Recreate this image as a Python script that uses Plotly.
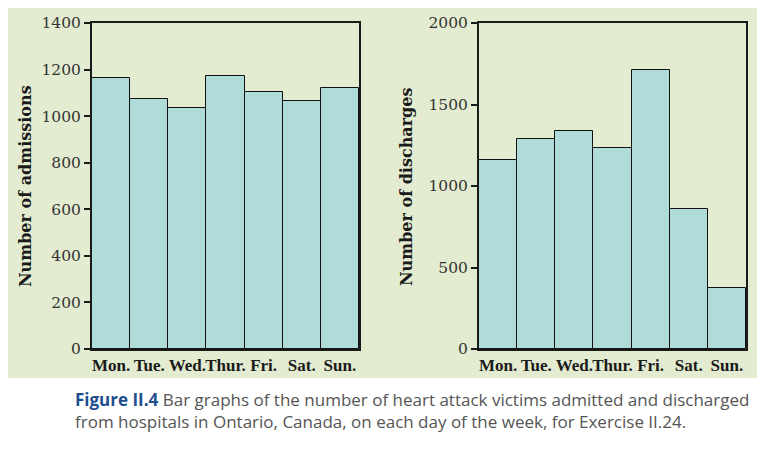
import plotly.graph_objects as go

days = ["Mon.", "Tue.", "Wed.", "Thur.", "Fri.", "Sat.", "Sun."]
admissions = [1165, 1075, 1037, 1174, 1105, 1063, 1123]
discharges = [1158, 1287, 1336, 1232, 1711, 857, 377]
adm_ticks = [0, 200, 400, 600, 800, 1000, 1200, 1400]
dis_ticks = [0, 500, 1000, 1500, 2000]

# page body has an 8px margin; lay out in window pixel coordinates
OFF = 8
W, H = 765 - OFF, 456 - OFF


def px(x):
    return (x - OFF) / W


def py(y):
    return 1 - (y - OFF) / H


bar_color = "#afdcd9"
bg_green = "#e3ecd0"
serif = "DejaVu Serif"
xfont = dict(family="Liberation Serif", size=17, color="#1a1a1a", weight="bold")
yfont = dict(family=serif, size=15.5, color="#333")

fig = go.Figure()
fig.add_trace(go.Bar(x=days, y=admissions, marker=dict(color=bar_color, line=dict(color="#111", width=1)),
                     xaxis="x", yaxis="y", width=1.0, showlegend=False))
fig.add_trace(go.Bar(x=days, y=discharges, marker=dict(color=bar_color, line=dict(color="#111", width=1)),
                     xaxis="x2", yaxis="y2", width=1.0, showlegend=False))

ydom = [py(349), py(23)]
axis_common = dict(showline=True, linecolor="#1a1a1a", linewidth=2, mirror=True, showgrid=False,
                   zeroline=False, automargin=False)
fig.update_layout(
    width=W, height=H,
    margin=dict(l=0, r=0, t=0, b=0),
    paper_bgcolor="white",
    plot_bgcolor="white",
    bargap=0,
    xaxis=dict(domain=[px(92), px(359)], anchor="y", ticks="", tickangle=0, tickfont=xfont, **axis_common),
    yaxis=dict(domain=ydom, anchor="x", range=[0, 1400], tickvals=adm_ticks, ticks="outside", ticklen=6,
               tickwidth=2, tickcolor="#1a1a1a", tickfont=yfont, **axis_common),
    xaxis2=dict(domain=[px(479), px(746)], anchor="y2", ticks="", tickangle=0, tickfont=xfont, **axis_common),
    yaxis2=dict(domain=ydom, anchor="x2", range=[0, 2000], tickvals=dis_ticks, ticks="outside", ticklen=6,
                tickwidth=2, tickcolor="#1a1a1a", tickfont=yfont, **axis_common),
    shapes=[dict(type="rect", xref="paper", yref="paper", x0=px(6), x1=px(760), y0=py(378), y1=py(5),
                 fillcolor=bg_green, line=dict(width=0), layer="below")],
    annotations=[
        dict(text="<b>Number of admissions</b>", textangle=-90, xref="paper", yref="paper", x=px(25), y=py(186),
             showarrow=False, font=dict(family=serif, size=16, color="#1a1a1a"), xanchor="center", yanchor="middle"),
        dict(text="<b>Number of discharges</b>", textangle=-90, xref="paper", yref="paper", x=px(406), y=py(186),
             showarrow=False, font=dict(family=serif, size=16, color="#1a1a1a"), xanchor="center", yanchor="middle"),
        dict(text="<b><span style='color:#1f4f8f'>Figure II.4</span></b> Bar graphs of the number of heart attack victims admitted and discharged"
                  "<br>from hospitals in Ontario, Canada, on each day of the week, for Exercise II.24.",
             xref="paper", yref="paper", x=px(73), y=py(410), showarrow=False, align="left",
             xanchor="left", yanchor="middle", font=dict(family="Open Sans", size=17, color="#555")),
    ],
)

fig.write_html("out.html")
